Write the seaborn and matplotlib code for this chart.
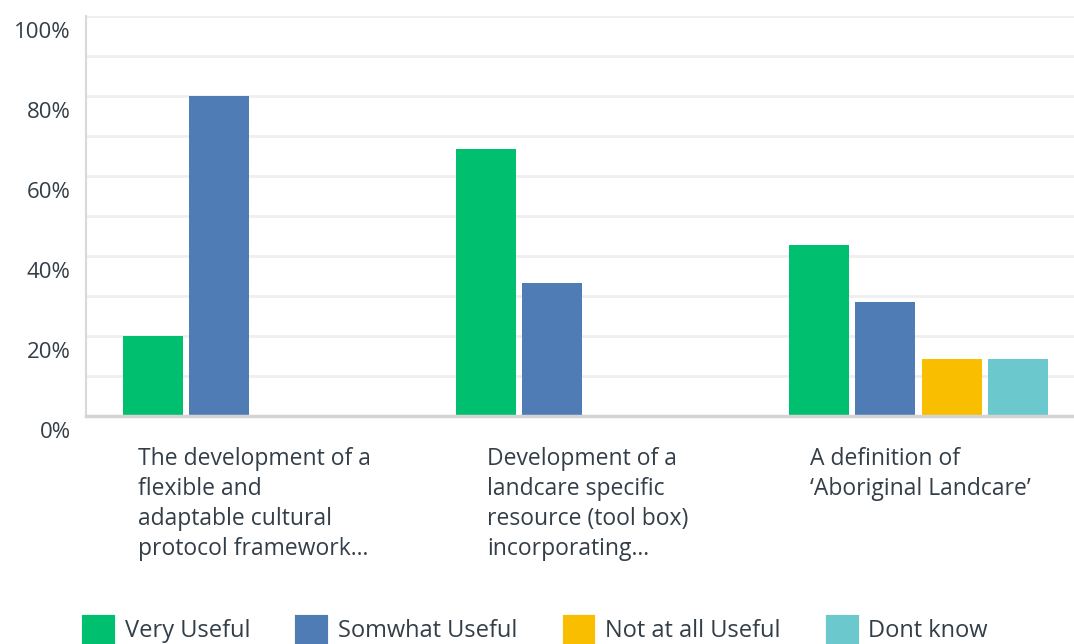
import matplotlib.pyplot as plt
import matplotlib.patches as mpatches
import matplotlib.transforms as mtransforms
import seaborn as sns
import pandas as pd

# Survey answers (percent of respondents per question)
questions = [
    "The development of a\nflexible and\nadaptable cultural\nprotocol framework...",
    "Development of a\nlandcare specific\nresource (tool box)\nincorporating...",
    "A definition of\n\u2018Aboriginal Landcare\u2019",
]
responses = ["Very Useful", "Somwhat Useful", "Not at all Useful", "Dont know"]
very_useful = [20.0, 66.67, 42.86]
somewhat_useful = [80.0, 33.33, 28.57]
not_useful = [0.0, 0.0, 14.29]
dont_know = [0.0, 0.0, 14.29]
colors = ["#00bf6f", "#507cb6", "#f9be00", "#6bc8cd"]

TEXT = "#333e48"

rows = []
for series, name in zip([very_useful, somewhat_useful, not_useful, dont_know], responses):
    for q, v in zip(questions, series):
        rows.append({"question": q, "response": name, "pct": v})
df = pd.DataFrame(rows)

sns.set_theme(style="white")
plt.rcParams["font.family"] = ["Open Sans", "DejaVu Sans"]

fig = plt.figure(figsize=(10.74, 6.44), dpi=100)
ax = fig.add_axes([86 / 1074, 228 / 644, 988 / 1074, 400 / 644])

sns.barplot(data=df, x="question", y="pct", hue="response", hue_order=responses,
            palette=colors, saturation=1, width=0.8, gap=0.1, linewidth=0,
            legend=False, ax=ax, zorder=3)

ax.set_xlim(-0.5, 2.467)
ax.set_ylim(0, 100)
ax.set_yticks(range(0, 101, 20))
ax.set_yticks(range(10, 100, 20), minor=True)
ax.set_yticklabels([f"{v}%" for v in range(0, 101, 20)], va="top")
ax.grid(True, axis="y", which="both", color="#efefef", linewidth=2, zorder=0)
ax.tick_params(axis="y", which="both", length=0, pad=11, labelsize=16, labelcolor=TEXT)
ax.tick_params(axis="x", length=0, labelbottom=False)
ax.set_xlabel("")
ax.set_ylabel("")

# nudge the percent labels a little below their gridlines
shift = mtransforms.ScaledTranslation(0, -4 / 72, fig.dpi_scale_trans)
for lab in ax.get_yticklabels():
    lab.set_transform(lab.get_transform() + shift)

for side in ["top", "right"]:
    ax.spines[side].set_visible(False)
ax.spines["left"].set_color("#d9d9d9")
ax.spines["left"].set_linewidth(1.5)
ax.spines["bottom"].set_color("#d4d4d4")
ax.spines["bottom"].set_linewidth(2.5)
ax.spines["bottom"].set_zorder(4)

# wrapped category labels, block centred under each group, left aligned inside
for i, q in enumerate(questions):
    ax.text(i + 0.006, -0.078, q, transform=ax.get_xaxis_transform(), ha="center", va="top",
            multialignment="left", fontsize=16.5, color=TEXT, linespacing=1.33)

handles = [mpatches.Patch(facecolor=c, edgecolor=c, linewidth=3, joinstyle="round")
           for c in colors]
fig.legend(handles, responses, loc="center left", bbox_to_anchor=(84 / 1074, 14 / 644),
           ncol=4, frameon=False, fontsize=17, labelcolor=TEXT,
           handlelength=1.22, handleheight=1.3, handletextpad=0.5,
           columnspacing=2.0, borderpad=0, borderaxespad=0)

fig.savefig("out.png", dpi=100)
